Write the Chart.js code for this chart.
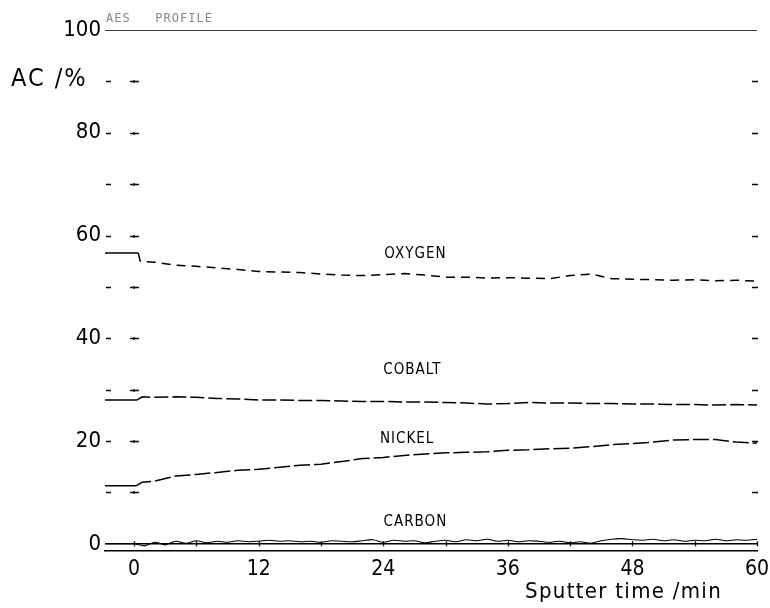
<!DOCTYPE html>
<html><head><meta charset="utf-8">
<script src="https://cdn.jsdelivr.net/npm/chart.js@4/dist/chart.umd.min.js"></script>
<style>html,body{margin:0;padding:0;background:#fff;}#wrap{width:770px;height:608px;}</style>
</head><body><div id="wrap"><canvas id="c" width="770" height="608"></canvas></div>
<script>
// ---- data ----
const xTicks = [0, 12, 24, 36, 48, 60];
const yTicks = [0, 20, 40, 60, 80, 100];
const guideLevels = [10, 20, 30, 40, 50, 60, 70, 80, 90];
const baseTicks = [0, 6, 12, 18, 24, 30, 36, 42, 48, 54, 60];

const refX = [-2.8, 60];
const totalY = [100, 100];
const zeroY = [0, 0];

const oxygenT = [-2.8, 0.4, 0.6, 2, 4, 6, 8, 10, 12, 14, 16, 18, 20, 22, 24, 26, 28, 30, 32, 34, 36, 38, 40, 42, 44, 46, 48, 50, 52, 54, 56, 58, 60];
const oxygenV = [56.6, 56.6, 55.0, 54.8, 54.2, 54.0, 53.7, 53.4, 53.0, 52.9, 52.8, 52.5, 52.3, 52.2, 52.4, 52.6, 52.3, 51.9, 51.9, 51.7, 51.8, 51.7, 51.6, 52.2, 52.5, 51.6, 51.5, 51.4, 51.3, 51.4, 51.2, 51.3, 51.1];

const cobaltT = [-2.8, 0.3, 0.8, 2, 4, 6, 8, 10, 12, 14, 16, 18, 20, 22, 24, 26, 28, 30, 32, 34, 36, 38, 40, 42, 44, 46, 48, 50, 52, 54, 56, 58, 60];
const cobaltV = [28.0, 28.0, 28.6, 28.5, 28.6, 28.5, 28.3, 28.2, 28.0, 28.0, 27.9, 27.9, 27.8, 27.7, 27.7, 27.6, 27.6, 27.5, 27.4, 27.2, 27.3, 27.5, 27.4, 27.4, 27.3, 27.3, 27.2, 27.2, 27.1, 27.1, 27.0, 27.1, 27.0];

const nickelT = [-2.8, 0.2, 0.8, 2, 4, 6, 8, 10, 12, 14, 16, 18, 20, 22, 24, 26, 28, 30, 32, 34, 36, 38, 40, 42, 44, 46, 48, 50, 52, 54, 56, 58, 60];
const nickelV = [11.3, 11.3, 12.0, 12.2, 13.2, 13.5, 13.9, 14.3, 14.5, 14.9, 15.3, 15.5, 16.0, 16.6, 16.8, 17.2, 17.5, 17.7, 17.8, 17.9, 18.2, 18.3, 18.5, 18.6, 18.9, 19.3, 19.5, 19.8, 20.2, 20.3, 20.3, 19.8, 19.6];

const carbonT = [-2.8, 0, 1, 2, 3, 4, 5, 6, 7, 8, 9,
  10, 11, 12, 13, 14, 15, 16, 17, 18, 19,
  20, 21, 22, 23, 24, 25, 26, 27, 28, 29,
  30, 31, 32, 33, 34, 35, 36, 37, 38, 39,
  40, 41, 42, 43, 44, 45, 46, 47, 48, 49,
  50, 51, 52, 53, 54, 55, 56, 57, 58, 59, 60];
const carbonV = [0.0, 0.0, -0.4, 0.3, -0.2, 0.5, 0.1, 0.6, 0.2, 0.5, 0.3,
  0.6, 0.4, 0.5, 0.7, 0.5, 0.6, 0.4, 0.5, 0.3, 0.6,
  0.5, 0.4, 0.6, 0.8, 0.3, 0.7, 0.5, 0.6, 0.2, 0.5,
  0.7, 0.4, 0.8, 0.6, 0.9, 0.5, 0.7, 0.4, 0.6, 0.5,
  0.3, 0.5, 0.2, 0.4, 0.1, 0.6, 0.9, 1.0, 0.8, 0.7,
  0.9, 0.6, 0.8, 0.5, 0.7, 0.6, 0.9, 0.6, 0.8, 0.7, 0.9];

const seriesNames = ['OXYGEN', 'COBALT', 'NICKEL', 'CARBON'];

// ---- styling / layout ----
const FONT = "'DejaVu Sans Condensed', 'DejaVu Sans', sans-serif";
const NUMFONT = "'DejaVu Sans Condensed', 'DejaVu Sans', sans-serif";
const labelAnchors = [[27.1, 56.4], [26.8, 33.9], [26.3, 20.3], [27.1, 4.3]];

const pts = (t, v) => t.map((x, i) => ({x, y: v[i]}));
const dashAfterZero = pattern => ({borderDash: ctx => (ctx.p0.parsed.x < 0 ? [] : pattern)});

const decor = {
  id: 'decor',
  afterDatasetsDraw(chart) {
    const {ctx, chartArea: a, scales: {x, y}} = chart;
    ctx.save();
    ctx.strokeStyle = '#000';
    ctx.lineWidth = 1.3;
    const x0 = x.getPixelForValue(0);
    guideLevels.forEach(v => {
      const py = Math.round(y.getPixelForValue(v)) + 0.5;
      ctx.beginPath();
      ctx.moveTo(a.left + 1, py); ctx.lineTo(a.left + 6, py);
      ctx.moveTo(x0 - 4, py); ctx.lineTo(x0 + 5, py);
      ctx.moveTo(x0, py - 1.5); ctx.lineTo(x0, py + 1.5);
      ctx.moveTo(a.right - 5, py); ctx.lineTo(a.right + 1, py);
      ctx.stroke();
    });
    const pz = y.getPixelForValue(0);
    baseTicks.forEach(t => {
      const px = Math.round(x.getPixelForValue(t)) + 0.5;
      ctx.beginPath(); ctx.moveTo(px, pz - 2.5); ctx.lineTo(px, pz + 2.5); ctx.stroke();
    });
    ctx.fillStyle = '#000';
    ctx.textBaseline = 'middle';
    ctx.textAlign = 'center';
    ctx.letterSpacing = '1px';
    ctx.font = '15px ' + FONT;
    seriesNames.forEach((n, i) => {
      ctx.fillText(n, x.getPixelForValue(labelAnchors[i][0]), y.getPixelForValue(labelAnchors[i][1]));
    });
    ctx.textAlign = 'left';
    ctx.letterSpacing = '2px';
    ctx.font = '25px ' + FONT;
    ctx.fillText('AC /%', 11, 79);
    ctx.textAlign = 'right';
    ctx.letterSpacing = '1.3px';
    ctx.font = '22px ' + FONT;
    ctx.fillText('Sputter time /min', 722, 592);
    ctx.textAlign = 'left';
    ctx.letterSpacing = '1px';
    ctx.font = '12px "DejaVu Sans Mono", monospace';
    ctx.fillStyle = '#888';
    ctx.fillText('AES   PROFILE', 106, 19);
    ctx.restore();
  }
};

const lineDs = (data, extra) => Object.assign({
  data, borderColor: '#000', borderWidth: 1.5, pointRadius: 0, tension: 0, fill: false
}, extra);

new Chart(document.getElementById('c'), {
  type: 'line',
  data: {
    datasets: [
      lineDs(pts(refX, totalY), {borderWidth: 1.5}),
      lineDs(pts(refX, zeroY), {borderWidth: 1.4}),
      lineDs(pts(oxygenT, oxygenV), {segment: dashAfterZero([9, 6])}),
      lineDs(pts(cobaltT, cobaltV), {segment: dashAfterZero([14, 4])}),
      lineDs(pts(nickelT, nickelV), {segment: dashAfterZero([16, 4])}),
      lineDs(pts(carbonT, carbonV), {borderWidth: 1.1, tension: 0.3})
    ]
  },
  options: {
    responsive: false,
    animation: false,
    events: [],
    layout: {padding: {left: 0, right: 13, top: 30, bottom: 0}},
    plugins: {legend: {display: false}, tooltip: {enabled: false}},
    scales: {
      x: {
        type: 'linear', min: -2.8, max: 60,
        afterBuildTicks: s => { s.ticks = xTicks.map(v => ({value: v})); },
        afterFit: s => { s.height = 57; s.paddingLeft = 0; s.paddingRight = 0; },
        grid: {display: false, drawTicks: false, tickLength: 0},
        border: {display: true, color: '#000', width: 1.5},
        ticks: {color: '#000', font: {family: NUMFONT, size: 21}, padding: 6, maxRotation: 0, autoSkip: false}
      },
      y: {
        type: 'linear', min: -1.4, max: 100,
        afterBuildTicks: s => { s.ticks = yTicks.map(v => ({value: v})); },
        afterFit: s => { s.width = 105; s.paddingTop = 0; s.paddingBottom = 0; },
        grid: {display: false, drawTicks: false, tickLength: 0},
        border: {display: false},
        ticks: {color: '#000', font: {family: NUMFONT, size: 22}, padding: 4, autoSkip: false}
      }
    }
  },
  plugins: [decor]
});
</script>
</body></html>
